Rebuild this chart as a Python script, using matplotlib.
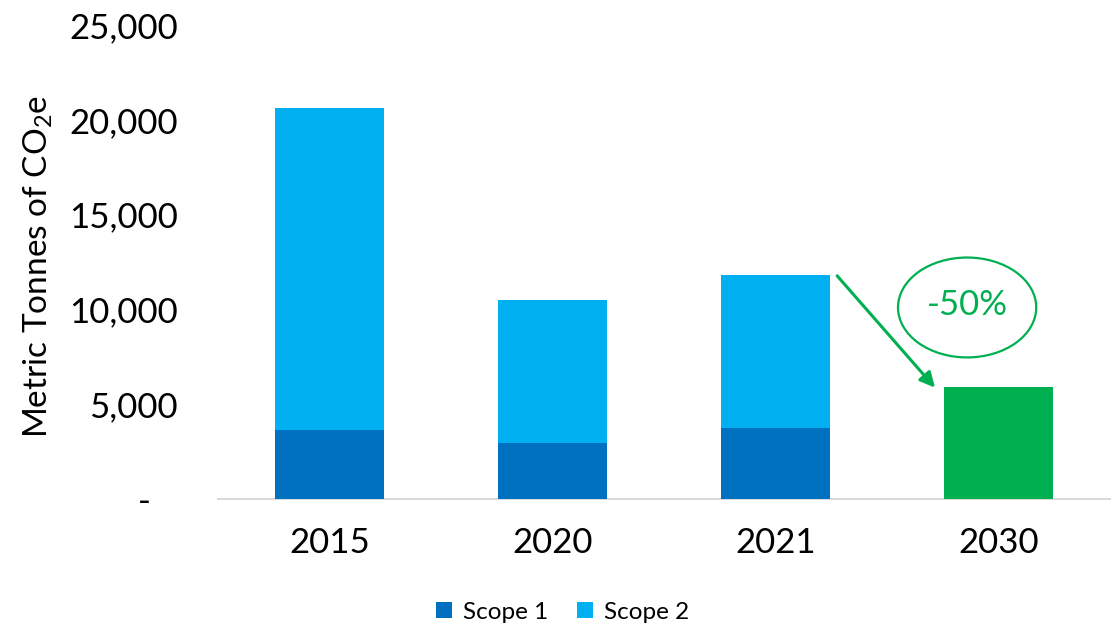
import matplotlib
matplotlib.use("Agg")
import matplotlib.pyplot as plt
from matplotlib.patches import Ellipse
from matplotlib.ticker import FuncFormatter

plt.rcParams['font.family'] = ['Lato', 'DejaVu Sans']

# data
years = ['2015', '2020', '2021', '2030']
scope1 = [3640, 2950, 3740]
scope2 = [16970, 7540, 8080]
target_2030 = 5900
reduction_label = '-50%'

c_scope1 = '#0070C0'
c_scope2 = '#00B0F0'
c_green = '#00B050'

fig = plt.figure(figsize=(11.19, 6.26), dpi=100)
ax = fig.add_axes([0.195, 0.203, 0.797, 0.757])

x_hist = list(range(len(scope1)))
ax.bar(x_hist, scope1, width=0.49, color=c_scope1, label='Scope 1', zorder=3)
ax.bar(x_hist, scope2, width=0.49, bottom=scope1, color=c_scope2, label='Scope 2', zorder=3)
ax.bar([3], [target_2030], width=0.49, color=c_green, zorder=3)

ax.set_xlim(-0.5, 3.5)
ax.set_ylim(0, 25000)
ax.set_xticks(range(len(years)))
ax.set_xticklabels(years)
ax.set_yticks([0, 5000, 10000, 15000, 20000, 25000])
# accounting style: zero shown as a dash, set in from the right
ax.yaxis.set_major_formatter(FuncFormatter(lambda v, p: '-   ' if v == 0 else f'{int(v):,}'))
ax.tick_params(axis='both', length=0, labelsize=25, colors='black')
ax.tick_params(axis='x', pad=20)
ax.tick_params(axis='y', pad=29)

for s in ['top', 'right', 'left']:
    ax.spines[s].set_visible(False)
ax.spines['bottom'].set_color('#D9D9D9')
ax.spines['bottom'].set_linewidth(1.5)

ax.set_ylabel('Metric Tonnes of CO$_\\mathregular{2}$e', fontsize=24)
ax.yaxis.set_label_coords(-0.183, 0.49)

# reduction arrow and callout
total_2021 = scope1[2] + scope2[2]
ax.annotate('', xy=(2.715, target_2030 - 30), xytext=(2.276, total_2021 - 50),
            arrowprops=dict(arrowstyle='-|>,head_length=0.9,head_width=0.45',
                            color=c_green, lw=2.2, shrinkA=0, shrinkB=0), zorder=4)
ax.add_patch(Ellipse((2.859, 10100), 0.62, 5270, fill=False, edgecolor=c_green, lw=1.6, zorder=4))
ax.text(2.859, 10250, reduction_label, color=c_green, fontsize=25, ha='center', va='center', zorder=5)

leg = fig.legend(loc='center', bbox_to_anchor=(0.503, 0.022), ncol=2, frameon=False,
                 fontsize=17.5, handlelength=0.65, handleheight=0.65, handletextpad=0.45,
                 columnspacing=1.2)

fig.savefig('out.png', dpi=100)
